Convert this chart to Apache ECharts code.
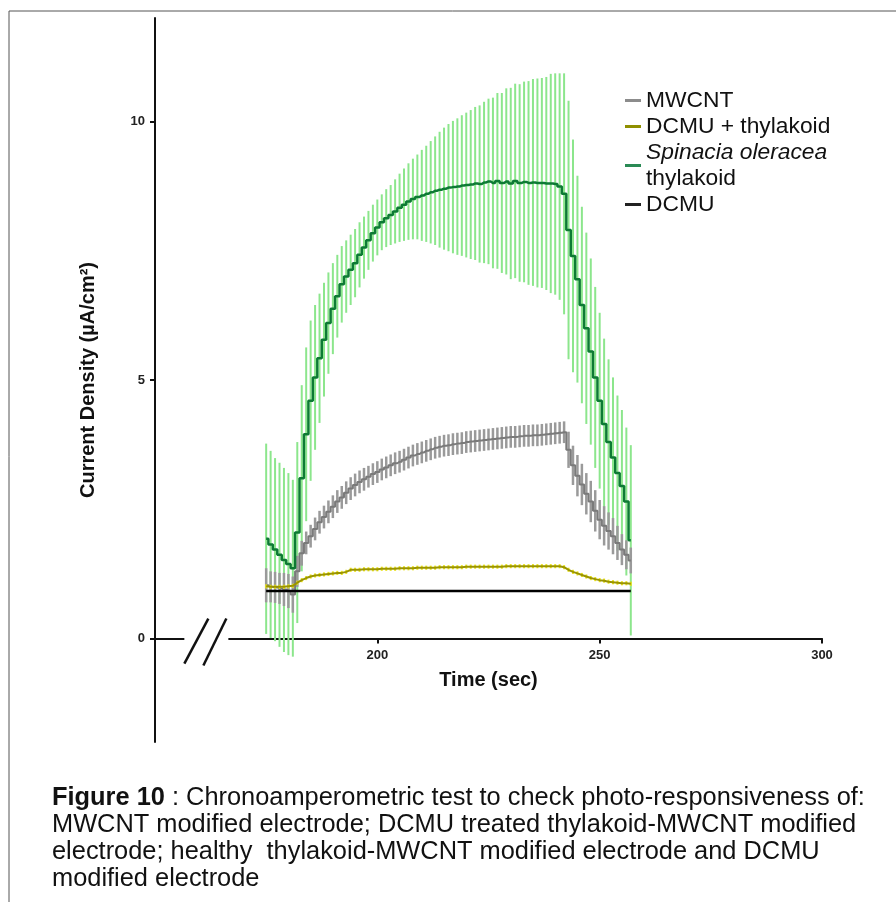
<!DOCTYPE html>
<html>
<head>
<meta charset="utf-8">
<title>Figure 10 - chronoamperometric test</title>
<script src="https://cdn.jsdelivr.net/npm/echarts@6/dist/echarts.min.js"></script>
<style>
  html, body { margin: 0; padding: 0; background: #fff; }
  #chart { width: 896px; height: 902px; }
</style>
</head>
<body>
<div id="chart"></div>
<script>
// time in sec, one reading per second
const time = [
  175, 176, 177, 178, 179, 180, 181, 182, 183, 184,
  185, 186, 187, 188, 189, 190, 191, 192, 193, 194,
  195, 196, 197, 198, 199, 200, 201, 202, 203, 204,
  205, 206, 207, 208, 209, 210, 211, 212, 213, 214,
  215, 216, 217, 218, 219, 220, 221, 222, 223, 224,
  225, 226, 227, 228, 229, 230, 231, 232, 233, 234,
  235, 236, 237, 238, 239, 240, 241, 242, 243, 244,
  245, 246, 247, 248, 249, 250, 251, 252, 253, 254,
  255, 256, 257
]

// Spinacia oleracea thylakoid (mean, sd)
const thylakoid = [
  1.93, 1.82, 1.72, 1.62, 1.52, 1.44, 1.36, 2.05, 3.10, 3.95,
  4.60, 5.05, 5.42, 5.78, 6.10, 6.38, 6.62, 6.85, 7.00, 7.13,
  7.26, 7.42, 7.56, 7.70, 7.84, 7.95, 8.05, 8.13, 8.19, 8.26,
  8.33, 8.39, 8.45, 8.50, 8.54, 8.57, 8.60, 8.63, 8.66, 8.68,
  8.70, 8.72, 8.73, 8.74, 8.76, 8.77, 8.78, 8.80, 8.79, 8.82,
  8.84, 8.81, 8.85, 8.81, 8.84, 8.80, 8.85, 8.81, 8.83, 8.81,
  8.82, 8.81, 8.81, 8.80, 8.80, 8.79, 8.74, 8.60, 7.90, 7.40,
  6.95, 6.45, 6.00, 5.55, 5.05, 4.60, 4.15, 3.80, 3.50, 3.20,
  2.95, 2.65, 1.90
]
const thylakoidSd = [
  1.84, 1.81, 1.77, 1.78, 1.78, 1.76, 1.71, 1.75, 1.80, 1.68,
  1.55, 1.40, 1.25, 1.10, 0.98, 0.88, 0.80, 0.74, 0.70, 0.68,
  0.66, 0.63, 0.60, 0.57, 0.55, 0.54, 0.54, 0.56, 0.58, 0.62,
  0.66, 0.70, 0.74, 0.78, 0.82, 0.88, 0.93, 0.99, 1.05, 1.12,
  1.18, 1.23, 1.28, 1.32, 1.36, 1.40, 1.44, 1.48, 1.52, 1.56,
  1.60, 1.65, 1.70, 1.74, 1.80, 1.85, 1.88, 1.91, 1.94, 1.97,
  2.00, 2.02, 2.03, 2.06, 2.12, 2.14, 2.19, 2.33, 2.50, 2.25,
  2.00, 1.90, 1.85, 1.80, 1.75, 1.70, 1.65, 1.60, 1.55, 1.50,
  1.47, 1.43, 1.84
]

// MWCNT (mean, sd)
const mwcnt = [
  1.03, 1.00, 0.99, 0.97, 0.95, 0.92, 0.85, 1.30, 1.65, 1.85,
  1.98, 2.12, 2.25, 2.35, 2.45, 2.55, 2.65, 2.73, 2.82, 2.90,
  2.97, 3.03, 3.08, 3.13, 3.18, 3.22, 3.27, 3.31, 3.35, 3.39,
  3.42, 3.46, 3.50, 3.54, 3.57, 3.60, 3.63, 3.66, 3.69, 3.71,
  3.73, 3.74, 3.76, 3.77, 3.78, 3.80, 3.81, 3.82, 3.83, 3.84,
  3.85, 3.86, 3.87, 3.88, 3.89, 3.90, 3.90, 3.91, 3.92, 3.92,
  3.93, 3.93, 3.94, 3.95, 3.96, 3.97, 3.98, 3.99, 3.65, 3.35,
  3.15, 2.98, 2.80, 2.65, 2.47, 2.30, 2.18, 2.08, 1.98, 1.85,
  1.72, 1.62, 1.51
]
const mwcntSd = [
  0.33, 0.30, 0.30, 0.30, 0.32, 0.33, 0.35, 0.30, 0.24, 0.22,
  0.22, 0.22, 0.22, 0.22, 0.22, 0.22, 0.22, 0.22, 0.22, 0.22,
  0.22, 0.22, 0.22, 0.21, 0.21, 0.21, 0.21, 0.21, 0.21, 0.21,
  0.21, 0.21, 0.21, 0.21, 0.21, 0.21, 0.21, 0.21, 0.21, 0.21,
  0.21, 0.21, 0.21, 0.21, 0.21, 0.21, 0.21, 0.21, 0.21, 0.21,
  0.21, 0.21, 0.21, 0.21, 0.21, 0.21, 0.21, 0.21, 0.21, 0.21,
  0.21, 0.21, 0.21, 0.21, 0.21, 0.21, 0.21, 0.21, 0.35, 0.38,
  0.40, 0.40, 0.40, 0.40, 0.40, 0.38, 0.38, 0.36, 0.35, 0.33,
  0.30, 0.28, 0.25
]

// DCMU + thylakoid (mean, sd)
const dcmuThylakoid = [
  1.01, 1.00, 1.00, 1.00, 1.00, 1.01, 1.02, 1.08, 1.13, 1.17,
  1.20, 1.22, 1.23, 1.24, 1.25, 1.26, 1.27, 1.27, 1.29, 1.33,
  1.33, 1.33, 1.34, 1.34, 1.34, 1.34, 1.35, 1.35, 1.35, 1.35,
  1.36, 1.36, 1.36, 1.36, 1.37, 1.37, 1.37, 1.37, 1.37, 1.38,
  1.38, 1.38, 1.38, 1.38, 1.38, 1.39, 1.39, 1.39, 1.39, 1.39,
  1.39, 1.39, 1.39, 1.39, 1.40, 1.40, 1.40, 1.40, 1.40, 1.40,
  1.40, 1.40, 1.40, 1.40, 1.40, 1.40, 1.40, 1.38, 1.33, 1.29,
  1.26, 1.23, 1.20, 1.17, 1.15, 1.13, 1.12, 1.10, 1.09, 1.08,
  1.07, 1.07, 1.06
]
const dcmuThylakoidSd = 0.04

// DCMU (flat)
const dcmuTime = [175, 257]
const dcmu = [0.92, 0.92]

const xTicks = [200, 250, 300]
const yTicks = [0, 5, 10]

// where the x axis line is interrupted (//)
const breakFrom = 156.6
const breakTo = 166.5

const FONT = '"Liberation Sans", Arial, sans-serif'

const grid = { left: 155, right: 74, top: 18, bottom: 160 }
const yMin = -2
const yMax = 12
// the x axis sits on y = 0, not at the bottom of the grid
const gridHeight = 902 - grid.top - grid.bottom
const xAxisOffset = gridHeight * (0 - yMin) / (yMax - yMin)

const pairs = (xs, ys) => xs.map((t, i) => [t, ys[i]])
const triples = (xs, ys, sd) => xs.map((t, i) => [t, ys[i], Array.isArray(sd) ? sd[i] : sd])

const errorBars = (color, width) => (params, api) => {
  const x = api.value(0)
  const m = api.value(1)
  const s = api.value(2)
  const top = api.coord([x, m + s])
  const bot = api.coord([x, m - s])
  return {
    type: 'line',
    shape: { x1: top[0], y1: top[1], x2: bot[0], y2: bot[1] },
    style: { stroke: color, lineWidth: width }
  }
}

const chart = echarts.init(document.getElementById('chart'))

const option = {
  animation: false,
  backgroundColor: '#fff',
  textStyle: { fontFamily: FONT },
  grid: grid,
  legend: {
    data: ['MWCNT', 'DCMU + thylakoid', 'Spinacia oleracea thylakoid', 'DCMU'],
    orient: 'vertical',
    left: 620,
    top: 84,
    icon: 'rect',
    itemWidth: 16,
    itemHeight: 3,
    itemGap: 3,
    formatter: (name) => name === 'Spinacia oleracea thylakoid'
      ? '{it|Spinacia oleracea}\n{n|thylakoid}'
      : '{n|' + name + '}',
    textStyle: {
      color: '#111',
      rich: {
        n: { fontSize: 22.8, lineHeight: 26, fontFamily: FONT, color: '#111' },
        it: { fontSize: 22.8, lineHeight: 26, fontFamily: FONT, fontStyle: 'italic', color: '#111' }
      }
    }
  },
  xAxis: {
    type: 'value',
    min: 150,
    max: 300,
    position: 'bottom',
    offset: -xAxisOffset,
    name: 'Time (sec)',
    nameLocation: 'middle',
    nameGap: 32,
    nameTextStyle: { fontSize: 20, fontWeight: 'bold', color: '#111', fontFamily: FONT },
    axisLine: { onZero: false, lineStyle: { color: '#111', width: 2 } },
    axisTick: { customValues: xTicks, length: 5, lineStyle: { color: '#111', width: 2 } },
    axisLabel: { customValues: xTicks, fontSize: 13, fontWeight: 'bold', color: '#222', margin: 10 },
    splitLine: { show: false }
  },
  yAxis: {
    type: 'value',
    min: yMin,
    max: yMax,
    name: 'Current Density (µA/cm²)',
    nameLocation: 'middle',
    nameGap: 57,
    nameTextStyle: { fontSize: 20, fontWeight: 'bold', color: '#111', fontFamily: FONT },
    axisLine: { show: true, lineStyle: { color: '#111', width: 2 } },
    axisTick: { show: true, customValues: yTicks, length: 5, lineStyle: { color: '#111', width: 2 } },
    axisLabel: { customValues: yTicks, fontSize: 13, fontWeight: 'bold', color: '#222', margin: 10 },
    splitLine: { show: false }
  },
  series: [
    {
      name: 'thylakoid err',
      type: 'custom',
      silent: true,
      z: 1,
      encode: { x: 0, y: 1 },
      renderItem: errorBars('#8ce68c', 2),
      data: triples(time, thylakoid, thylakoidSd)
    },
    {
      name: 'mwcnt err',
      type: 'custom',
      silent: true,
      z: 2,
      encode: { x: 0, y: 1 },
      renderItem: errorBars('#9a9a9a', 2.5),
      data: triples(time, mwcnt, mwcntSd)
    },
    {
      name: 'MWCNT',
      type: 'line',
      z: 3,
      color: '#8c8c8c',
      step: 'middle',
      showSymbol: false,
      lineStyle: { color: '#7a7a7a', width: 2 },
      data: pairs(time, mwcnt)
    },
    {
      name: 'Spinacia oleracea thylakoid',
      type: 'line',
      z: 4,
      color: '#2a8a55',
      step: 'middle',
      showSymbol: false,
      lineStyle: { color: '#0d7a34', width: 2.5 },
      data: pairs(time, thylakoid)
    },
    {
      name: 'dcmu thylakoid err',
      type: 'custom',
      silent: true,
      z: 5,
      encode: { x: 0, y: 1 },
      renderItem: errorBars('#e8e21a', 2),
      data: triples(time, dcmuThylakoid, dcmuThylakoidSd)
    },
    {
      name: 'DCMU + thylakoid',
      type: 'line',
      z: 6,
      color: '#8f8f00',
      showSymbol: false,
      lineStyle: { color: '#9a9400', width: 2 },
      data: pairs(time, dcmuThylakoid)
    },
    {
      name: 'DCMU',
      type: 'line',
      z: 7,
      color: '#222',
      showSymbol: false,
      lineStyle: { color: '#000', width: 2.5 },
      data: pairs(dcmuTime, dcmu)
    }
  ]
}

chart.setOption(option)

// decorations: frame, caption and the // break on the x axis
const a = chart.convertToPixel({ gridIndex: 0 }, [breakFrom, 0])
const b = chart.convertToPixel({ gridIndex: 0 }, [breakTo, 0])

const caption = '{b|Figure 10} : Chronoamperometric test to check photo-responsiveness of:\n' +
  'MWCNT modified electrode; DCMU treated thylakoid-MWCNT modified\n' +
  'electrode; healthy  thylakoid-MWCNT modified electrode and DCMU\n' +
  'modified electrode'

chart.setOption({
  graphic: [
    {
      type: 'polyline',
      silent: true,
      shape: { points: [[9, 902], [9, 11], [896, 11]] },
      style: { stroke: '#555', lineWidth: 1, fill: null }
    },
    {
      type: 'rect',
      silent: true,
      z: 100,
      shape: { x: a[0], y: a[1] - 4, width: b[0] - a[0], height: 8 },
      style: { fill: '#fff' }
    },
    {
      type: 'line',
      silent: true,
      z: 101,
      shape: { x1: a[0], y1: a[1] + 25, x2: a[0] + 24, y2: a[1] - 20 },
      style: { stroke: '#111', lineWidth: 2.5 }
    },
    {
      type: 'line',
      silent: true,
      z: 101,
      shape: { x1: b[0] - 25, y1: b[1] + 27, x2: b[0] - 2, y2: b[1] - 20 },
      style: { stroke: '#111', lineWidth: 2.5 }
    },
    {
      type: 'text',
      silent: true,
      left: 52,
      top: 784,
      style: {
        text: caption,
        fontSize: 25.4,
        fontFamily: FONT,
        lineHeight: 27,
        fill: '#111',
        rich: {
          b: { fontSize: 25.4, fontWeight: 'bold', fontFamily: FONT, fill: '#111' }
        }
      }
    }
  ]
})
</script>
</body>
</html>
